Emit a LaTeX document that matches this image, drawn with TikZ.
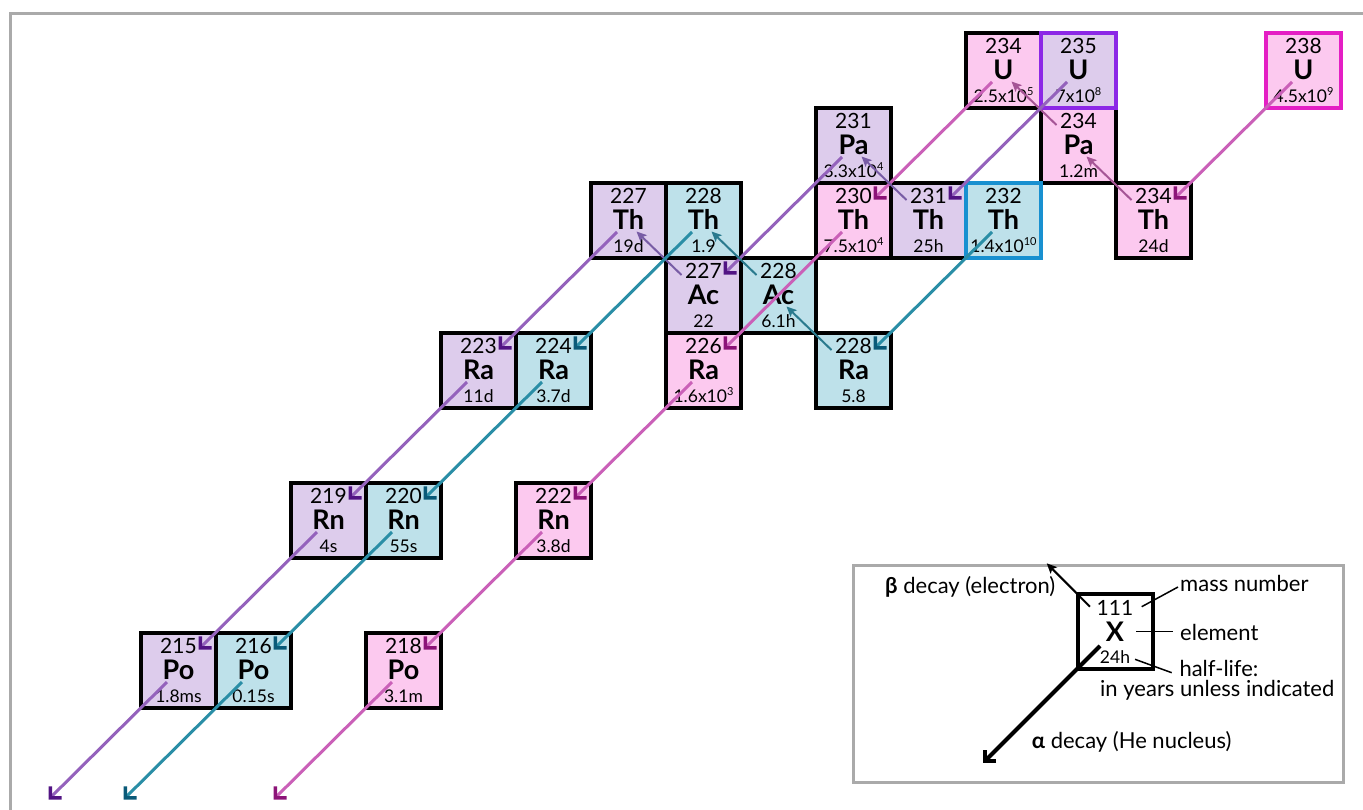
\documentclass[tikz,border=0pt]{standalone}
\usepackage{fontspec}
\setmainfont{Lato}
\usetikzlibrary{arrows.meta,calc}

% cell fills
\definecolor{fillpink}{RGB}{252,201,239}
\definecolor{filllav}{RGB}{221,204,236}
\definecolor{fillblue}{RGB}{190,225,234}
% outlines of the three parent nuclides
\definecolor{edgeUvf}{RGB}{140,40,230}
\definecolor{edgeUee}{RGB}{228,30,196}
\definecolor{edgeThtt}{RGB}{24,144,208}
% alpha lines and heads
\definecolor{lnpink}{RGB}{202,96,184}
\definecolor{hdpink}{RGB}{140,20,120}
\definecolor{lnlav}{RGB}{148,98,188}
\definecolor{hdlav}{RGB}{82,20,132}
\definecolor{lnblue}{RGB}{42,142,166}
\definecolor{hdblue}{RGB}{10,90,120}
% beta arrows
\definecolor{btpink}{RGB}{165,85,150}
\definecolor{btlav}{RGB}{120,92,165}
\definecolor{btblue}{RGB}{42,122,142}
\definecolor{framegray}{RGB}{170,170,170}

\newcommand\massfont{\fontsize{21}{21}\selectfont}
\newcommand\symfont{\fontsize{27}{27}\selectfont\bfseries}
\newcommand\lifefont{\fontsize{17.5}{17.5}\selectfont}
\newcommand\keyfont{\fontsize{22}{22}\selectfont}
\newcommand\pw[1]{\raisebox{7.5pt}{\fontsize{11}{11}\selectfont #1}}

\tikzset{
  cell/.style={draw=black, line width=4pt, minimum width=75pt, minimum height=75pt,
               inner sep=0pt, outer sep=0pt},
  txt/.style={anchor=base, inner sep=0pt},
  keytxt/.style={anchor=base west, inner sep=0pt, font=\keyfont},
  ring/.style={draw=#1, line width=4pt},
  apink/.style={draw=lnpink, line width=3pt, -{Straight Barb[length=8pt,width=16pt,line width=3.5pt,color=hdpink]}},
  alav/.style={draw=lnlav, line width=3pt, -{Straight Barb[length=8pt,width=16pt,line width=3.5pt,color=hdlav]}},
  ablue/.style={draw=lnblue, line width=3pt, -{Straight Barb[length=8pt,width=16pt,line width=3.5pt,color=hdblue]}},
  bpink/.style={draw=btpink, line width=2pt, -{Stealth[length=10pt,width=9pt,inset=2pt]}},
  blav/.style={draw=btlav, line width=2pt, -{Stealth[length=10pt,width=9pt,inset=2pt]}},
  bblue/.style={draw=btblue, line width=2pt, -{Stealth[length=10pt,width=9pt,inset=2pt]}},
  kalpha/.style={draw=black, line width=4pt, -{Straight Barb[length=8pt,width=16pt]}},
  kbeta/.style={draw=black, line width=2pt, -{Stealth[length=10pt,width=9pt,inset=2pt]}},
  leader/.style={draw=black, line width=1.5pt},
  panel/.style={draw=framegray, line width=3pt}
}

% name, column, row, fill, mass number, symbol, half-life
\newcommand\nuclide[7]{%
  \node[cell,fill=#4] (#1) at ({178.5+75*#2},{70.5+75*#3}) {};
  \node[txt,font=\massfont] (#1m) at ($(#1)+(0,-17.5)$) {#5};
  \node[txt,font=\symfont] (#1s) at ($(#1)+(0,8.5)$) {#6};
  \node[txt,font=\lifefont] (#1t) at ($(#1)+(0,32)$) {#7};
}
\newcommand\adecay[3]{\draw[#3] ($(#1)+(-11.5,11.5)$) -- ($(#2)+(20,-21)$);}
\newcommand\bdecay[3]{\draw[#3] ($(#1)+(-22,-20.5)$) -- ($(#2)+(8,11)$);}

\begin{document}
\begin{tikzpicture}[x=1pt,y=-1pt]
\useasboundingbox (0,0) rectangle (1363,809);
\fill[white] (0,0) rectangle (1363,809);
\draw[panel] (10,830) -- (10,13) -- (1400,13);

% uranium-238 series
\nuclide{Uee}{15}{0}{fillpink}{238}{U}{4.5x10\pw{9}}
\nuclide{Thtf}{13}{2}{fillpink}{234}{Th}{24d}
\nuclide{Patf}{12}{1}{fillpink}{234}{Pa}{1.2m}
\nuclide{Utf}{11}{0}{fillpink}{234}{U}{2.5x10\pw{5}}
\nuclide{Thtz}{9}{2}{fillpink}{230}{Th}{7.5x10\pw{4}}
\nuclide{Ratsix}{7}{4}{fillpink}{226}{Ra}{1.6x10\pw{3}}
\nuclide{Rntt}{5}{6}{fillpink}{222}{Rn}{3.8d}
\nuclide{Poxe}{3}{8}{fillpink}{218}{Po}{3.1m}
% uranium-235 series
\nuclide{Uvf}{12}{0}{filllav}{235}{U}{7x10\pw{8}}
\nuclide{Thto}{10}{2}{filllav}{231}{Th}{25h}
\nuclide{Pato}{9}{1}{filllav}{231}{Pa}{3.3x10\pw{4}}
\nuclide{Acts}{7}{3}{filllav}{227}{Ac}{22}
\nuclide{Thts}{6}{2}{filllav}{227}{Th}{19d}
\nuclide{Ratth}{4}{4}{filllav}{223}{Ra}{11d}
\nuclide{Rnxn}{2}{6}{filllav}{219}{Rn}{4s}
\nuclide{Poxf}{0}{8}{filllav}{215}{Po}{1.8ms}
% thorium-232 series
\nuclide{Thtt}{11}{2}{fillblue}{232}{Th}{1.4x10\pw{10}}
\nuclide{Rate}{9}{4}{fillblue}{228}{Ra}{5.8}
\nuclide{Acte}{8}{3}{fillblue}{228}{Ac}{6.1h}
\nuclide{Thte}{7}{2}{fillblue}{228}{Th}{1.9}
\nuclide{Ratf}{5}{4}{fillblue}{224}{Ra}{3.7d}
\nuclide{Rntw}{3}{6}{fillblue}{220}{Rn}{55s}
\nuclide{Poxs}{1}{8}{fillblue}{216}{Po}{0.15s}

% parent outlines
\draw[ring=edgeUvf] (Uvf.south west) rectangle (Uvf.north east);
\draw[ring=edgeUee] (Uee.south west) rectangle (Uee.north east);
\draw[ring=edgeThtt] (Thtt.south west) rectangle (Thtt.north east);

% decay products leaving the chart
\coordinate (outlav) at ({178.5-75*2},{70.5+75*10});
\coordinate (outblue) at ({178.5-75*1},{70.5+75*10});
\coordinate (outpink) at ({178.5+75*1},{70.5+75*10});

% uranium-238 decays
\adecay{Uee}{Thtf}{apink}
\bdecay{Thtf}{Patf}{bpink}
\bdecay{Patf}{Utf}{bpink}
\adecay{Utf}{Thtz}{apink}
\adecay{Thtz}{Ratsix}{apink}
\adecay{Ratsix}{Rntt}{apink}
\adecay{Rntt}{Poxe}{apink}
\adecay{Poxe}{outpink}{apink}
% uranium-235 decays
\adecay{Uvf}{Thto}{alav}
\bdecay{Thto}{Pato}{blav}
\adecay{Pato}{Acts}{alav}
\bdecay{Acts}{Thts}{blav}
\adecay{Thts}{Ratth}{alav}
\adecay{Ratth}{Rnxn}{alav}
\adecay{Rnxn}{Poxf}{alav}
\adecay{Poxf}{outlav}{alav}
% thorium-232 decays
\adecay{Thtt}{Rate}{ablue}
\bdecay{Rate}{Acte}{bblue}
\bdecay{Acte}{Thte}{bblue}
\adecay{Thte}{Ratf}{ablue}
\adecay{Ratf}{Rntw}{ablue}
\adecay{Rntw}{Poxs}{ablue}
\adecay{Poxs}{outblue}{ablue}

% key
\draw[panel] (853,565) rectangle (1343,782);
\node[cell,fill=white] (key) at (1115,631) {};
\node[txt,font=\massfont] (keym) at ($(key)+(0,-15.5)$) {111};
\node[txt,font=\symfont] (keys) at ($(key)+(0,10.5)$) {X};
\node[txt,font=\lifefont] (keyt) at ($(key)+(0,32.5)$) {24h};
\draw[kbeta] ($(key)+(-25,-24.3)$) -- ($(key)+(-68.3,-67.7)$);
\draw[kalpha] ($(key)+(-15,15)$) -- ($(key)+(-132.3,132.3)$);

\node[keytxt] (lbeta) at (885,593.3) {\textbf{β} decay (electron)};
\node[keytxt] (lmass) at (1180,591.7) {mass number};
\node[keytxt] (lelem) at (1180,640) {element};
\node[keytxt] (lhalf) at (1179.3,676.7) {half-life:};
\node[keytxt] (lunit) at (1100,696) {in years unless indicated};
\node[keytxt] (lalpha) at (1031.7,748.3) {\textbf{α} decay (He nucleus)};

\draw[leader] ($(key)+(26.7,-24.3)$) -- ($(lmass.base west)+(-2,-4.7)$);
\draw[leader] ($(key)+(21,0.5)$) -- ($(lelem.base west)+(-6.7,-8.5)$);
\draw[leader] ($(key)+(20,28.3)$) -- ($(lhalf.base west)+(-7.6,-4)$);
\end{tikzpicture}
\end{document}
